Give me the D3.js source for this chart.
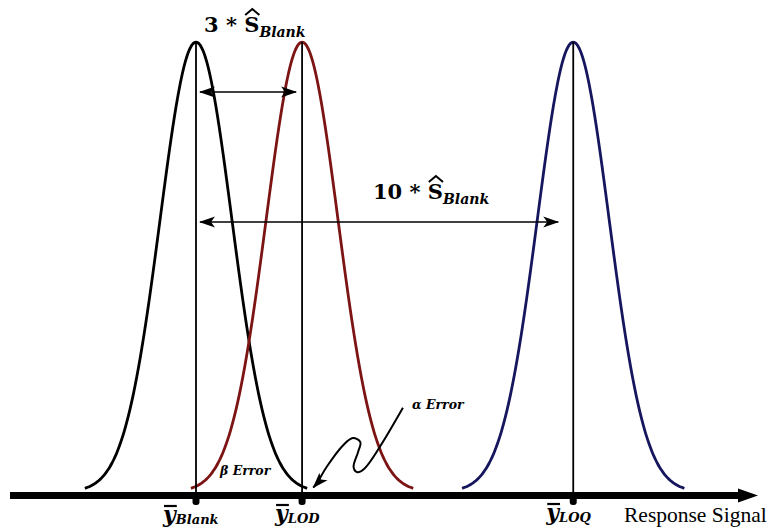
<!DOCTYPE html>
<html lang="en">
	<head>
		<meta charset="utf-8">
		<title>LOD / LOQ response signal</title>
		<script type="text/javascript" src="https://cdn.jsdelivr.net/npm/d3@7"></script>
		<style type="text/css">
			body { margin: 0; background: #fff; }
		</style>
	</head>
	<body>
		<script type="text/javascript">

			//Width and height
			var w = 771;
			var h = 530;

			//Distributions: blank, limit of detection, limit of quantification
			var names = ["Blank", "LOD", "LOQ"];
			var means = [24.9, 39.1, 75.4];
			var sigma = 4.8;
			var colors = ["#000000", "#7d1414", "#16165e"];

			//Spread arrows (from mean, to mean, height as share of peak)
			var spreadLabels = ["3", "10"];
			var spreadFrom = [0, 0];
			var spreadTo = [1, 2];
			var spreadLevel = [0.889, 0.60];

			//Wavy alpha error pointer, in chart units [x, level]
			var alphaPointer = [[52.6, 0.187], [49.5, 0.100], [47.5, 0.053], [46.5, 0.044],
			                    [46.0, 0.055], [46.6, 0.089], [46.9, 0.111], [45.9, 0.120],
			                    [44.6, 0.104], [42.4, 0.056], [41.1, 0.020], [40.6, 0.010]];

			var x = d3.scaleLinear().domain([0, 100]).range([10, 757]);
			var y = d3.scaleLinear().domain([0, 1]).range([492, 42]);

			var svg = d3.select("body")
						.append("svg")
						.attr("width", w)
						.attr("height", h);

			var defs = svg.append("defs");
			defs.append("marker")
				.attr("id", "head")
				.attr("viewBox", "0 -6 16 12")
				.attr("refX", 15).attr("refY", 0)
				.attr("markerWidth", 16).attr("markerHeight", 12)
				.attr("markerUnits", "userSpaceOnUse")
				.attr("orient", "auto-start-reverse")
				.append("path")
				.attr("d", "M0,-5.5 L16,0 L0,5.5 L4,0 Z")
				.style("fill", "#000");
			defs.append("marker")
				.attr("id", "axishead")
				.attr("viewBox", "0 -8 20 16")
				.attr("refX", 2).attr("refY", 0)
				.attr("markerWidth", 20).attr("markerHeight", 16)
				.attr("markerUnits", "userSpaceOnUse")
				.attr("orient", "auto")
				.append("path")
				.attr("d", "M0,-7 L20,0 L0,7 Z")
				.style("fill", "#000");

			//Gaussian curves
			var line = d3.line()
				.x(function(d) { return x(d[0]); })
				.y(function(d) { return y(d[1]); })
				.curve(d3.curveBasis);

			means.forEach(function(m, i) {
				var pts = d3.range(-3.1, 3.101, 0.05).map(function(z) {
					return [m + z * sigma, Math.exp(-z * z / 2)];
				});
				svg.append("path")
				   .attr("d", line(pts))
				   .style("fill", "none")
				   .style("stroke", colors[i])
				   .style("stroke-width", 2.8);
			});

			//Mean lines
			svg.selectAll("line.mean")
			   .data(means)
			   .enter()
			   .append("line")
			   .attr("class", "mean")
			   .attr("x1", function(d) { return x(d); })
			   .attr("x2", function(d) { return x(d); })
			   .attr("y1", y(0))
			   .attr("y2", y(1))
			   .style("stroke", "#000")
			   .style("stroke-width", 1.8);

			//Spread arrows
			spreadLabels.forEach(function(lab, i) {
				var x1 = x(means[spreadFrom[i]]) + 4;
				var x2 = x(means[spreadTo[i]]) - (i === 0 ? 6 : 15);
				svg.append("line")
				   .attr("x1", x1).attr("x2", x2)
				   .attr("y1", y(spreadLevel[i])).attr("y2", y(spreadLevel[i]))
				   .attr("marker-start", "url(#head)")
				   .attr("marker-end", "url(#head)")
				   .style("stroke", "#000")
				   .style("stroke-width", 1.5);
			});

			// S with a wide hat drawn over it
			function spreadText(tx, ty, num) {
				var t = svg.append("text")
						   .attr("x", tx).attr("y", ty)
						   .style("font-family", "'DejaVu Serif'")
						   .style("font-weight", "bold");
				t.append("tspan").style("font-size", "21px").text(num + " * S");
				t.append("tspan").attr("dy", 5).style("font-size", "14px")
				 .style("font-style", "italic").text("Blank");
				var r = t.node().getExtentOfChar(num.length + 3);
				var hx = r.x + 1, hw = r.width - 1, hy = ty - 17;
				svg.append("path")
				   .attr("d", "M" + hx + "," + hy + " L" + (hx + hw / 2) + "," + (hy - 6) + " L" + (hx + hw) + "," + hy)
				   .style("fill", "none")
				   .style("stroke", "#000")
				   .style("stroke-width", 2);
			}
			spreadText(204, 32, spreadLabels[0]);
			spreadText(373, 199, spreadLabels[1]);

			//Axis
			svg.append("line")
			   .attr("x1", x(0)).attr("x2", 740)
			   .attr("y1", 495.5).attr("y2", 495.5)
			   .attr("marker-end", "url(#axishead)")
			   .style("stroke", "#000")
			   .style("stroke-width", 7);

			//Mean markers on axis
			svg.selectAll("rect.dot")
			   .data(means)
			   .enter()
			   .append("rect")
			   .attr("class", "dot")
			   .attr("x", function(d) { return x(d) - 3.5; })
			   .attr("y", 493)
			   .attr("width", 7)
			   .attr("height", 12)
			   .attr("rx", 3)
			   .style("fill", "#000");

			//Mean labels
			var labelY = [522, 521, 520];
			names.forEach(function(n, i) {
				var t = svg.append("text")
						   .attr("x", x(means[i]) - 33 + (i === 0 ? 0 : 6))
						   .attr("y", labelY[i])
						   .style("font-family", "'DejaVu Serif'")
						   .style("font-weight", "bold")
						   .style("font-style", "italic");
				t.append("tspan").style("font-size", "22px").text("y");
				t.append("tspan").attr("dy", 2).style("font-size", "13px").text(n);
				var r = t.node().getExtentOfChar(0);
				svg.append("line")
				   .attr("x1", r.x + 1).attr("x2", r.x + r.width + 1)
				   .attr("y1", labelY[i] - 16).attr("y2", labelY[i] - 16)
				   .style("stroke", "#000")
				   .style("stroke-width", 2.2);
			});

			svg.append("text")
			   .attr("x", 624).attr("y", 522)
			   .style("font-family", "'Liberation Serif'")
			   .style("font-size", "21.5px")
			   .text("Response Signal");

			//Error annotations
			svg.append("text")
			   .attr("x", 220).attr("y", 475)
			   .style("font-family", "'DejaVu Serif'")
			   .style("font-weight", "bold").style("font-style", "italic")
			   .style("font-size", "12.5px")
			   .text("\u03B2 Error");
			svg.append("text")
			   .attr("x", 412).attr("y", 409)
			   .style("font-family", "'DejaVu Serif'")
			   .style("font-weight", "bold").style("font-style", "italic")
			   .style("font-size", "12.5px")
			   .text("\u03B1 Error");

			svg.append("path")
			   .attr("d", d3.line()
					.x(function(d) { return x(d[0]); })
					.y(function(d) { return y(d[1]); })
					.curve(d3.curveCatmullRom)(alphaPointer))
			   .attr("marker-end", "url(#head)")
			   .style("fill", "none")
			   .style("stroke", "#000")
			   .style("stroke-width", 2);

		</script>
	</body>
</html>
